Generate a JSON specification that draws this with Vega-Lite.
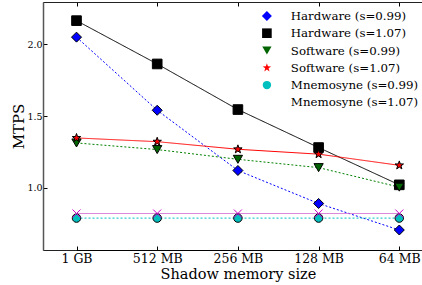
{
  "$schema": "https://vega.github.io/schema/vega-lite/v6.json",
  "width": 380,
  "height": 248,
  "autosize": {"type": "none"},
  "padding": {"left": 43, "top": 2, "right": -1, "bottom": 35},
  "config": {
    "view": {"stroke": "#222", "strokeWidth": 1},
    "font": "DejaVu Serif",
    "axis": {"domainColor": "black", "tickColor": "black", "labelColor": "black", "titleColor": "black", "grid": false, "labelFont": "DejaVu Serif", "titleFont": "DejaVu Serif", "titleFontWeight": "normal"},
    "legend": {"orient": "none", "legendX": 218, "legendY": 8, "padding": 0, "symbolSize": 100, "labelFont": "DejaVu Serif", "labelFontSize": 11.8, "labelColor": "black", "labelOffset": 18, "rowPadding": 3.3, "labelLimit": 300, "title": null, "symbolStrokeColor": "black", "symbolStrokeWidth": 1}
  },
  "data": {"values": [
    {"mem": "1 GB", "series": "Hardware (s=0.99)", "mtps": 2.05},
    {"mem": "512 MB", "series": "Hardware (s=0.99)", "mtps": 1.54},
    {"mem": "256 MB", "series": "Hardware (s=0.99)", "mtps": 1.12},
    {"mem": "128 MB", "series": "Hardware (s=0.99)", "mtps": 0.89},
    {"mem": "64 MB", "series": "Hardware (s=0.99)", "mtps": 0.705},
    {"mem": "1 GB", "series": "Hardware (s=1.07)", "mtps": 2.165},
    {"mem": "512 MB", "series": "Hardware (s=1.07)", "mtps": 1.863},
    {"mem": "256 MB", "series": "Hardware (s=1.07)", "mtps": 1.545},
    {"mem": "128 MB", "series": "Hardware (s=1.07)", "mtps": 1.28},
    {"mem": "64 MB", "series": "Hardware (s=1.07)", "mtps": 1.02},
    {"mem": "1 GB", "series": "Software (s=0.99)", "mtps": 1.312},
    {"mem": "512 MB", "series": "Software (s=0.99)", "mtps": 1.266},
    {"mem": "256 MB", "series": "Software (s=0.99)", "mtps": 1.198},
    {"mem": "128 MB", "series": "Software (s=0.99)", "mtps": 1.14},
    {"mem": "64 MB", "series": "Software (s=0.99)", "mtps": 1.004},
    {"mem": "1 GB", "series": "Software (s=1.07)", "mtps": 1.347},
    {"mem": "512 MB", "series": "Software (s=1.07)", "mtps": 1.321},
    {"mem": "256 MB", "series": "Software (s=1.07)", "mtps": 1.268},
    {"mem": "128 MB", "series": "Software (s=1.07)", "mtps": 1.234},
    {"mem": "64 MB", "series": "Software (s=1.07)", "mtps": 1.156},
    {"mem": "1 GB", "series": "Mnemosyne (s=0.99)", "mtps": 0.788},
    {"mem": "512 MB", "series": "Mnemosyne (s=0.99)", "mtps": 0.788},
    {"mem": "256 MB", "series": "Mnemosyne (s=0.99)", "mtps": 0.788},
    {"mem": "128 MB", "series": "Mnemosyne (s=0.99)", "mtps": 0.788},
    {"mem": "64 MB", "series": "Mnemosyne (s=0.99)", "mtps": 0.788},
    {"mem": "1 GB", "series": "Mnemosyne (s=1.07)", "mtps": 0.82},
    {"mem": "512 MB", "series": "Mnemosyne (s=1.07)", "mtps": 0.82},
    {"mem": "256 MB", "series": "Mnemosyne (s=1.07)", "mtps": 0.82},
    {"mem": "128 MB", "series": "Mnemosyne (s=1.07)", "mtps": 0.82},
    {"mem": "64 MB", "series": "Mnemosyne (s=1.07)", "mtps": 0.82}
  ]},
  "layer": [
    {
      "mark": {"type": "line", "strokeWidth": 1},
      "encoding": {
        "x": {"field": "mem", "type": "ordinal", "sort": null,
          "scale": {"type": "point", "domain": ["1 GB", "512 MB", "256 MB", "128 MB", "64 MB"], "range": [33.5, 356.3], "padding": 0},
          "axis": {"orient": "bottom", "title": "Shadow memory size", "titleFontSize": 14.5, "titlePadding": 3, "labelFontSize": 12.5, "labelAngle": 0, "tickSize": -4, "labelPadding": 6, "domainWidth": 1}},
        "y": {"field": "mtps", "type": "quantitative",
          "scale": {"domain": [0.5656, 2.295], "nice": false, "zero": false},
          "axis": {"orient": "left", "title": "MTPS", "titleFontSize": 15, "titlePadding": 0, "labelFontSize": 9.5, "values": [1, 1.5, 2], "format": ".1f", "tickSize": -4, "labelPadding": 5, "domainColor": "#555", "domainWidth": 1.5}},
        "detail": {"field": "series"},
        "stroke": {"field": "series", "type": "nominal", "legend": null,
          "scale": {"domain": ["Hardware (s=0.99)", "Hardware (s=1.07)", "Software (s=0.99)", "Software (s=1.07)", "Mnemosyne (s=0.99)", "Mnemosyne (s=1.07)"],
            "range": ["#0000ff", "#000000", "#008000", "#ff0000", "#00bfbf", "#d060d0"]}},
        "strokeDash": {"condition": {"test": "indexof(datum.series, '0.99') >= 0", "value": [2, 2]}, "value": [1, 0]},
        "strokeWidth": {"condition": {"test": "datum.series === 'Mnemosyne (s=1.07)'", "value": 2.5}, "value": 1}
      }
    },
    {
      "mark": {"type": "point", "filled": true, "opacity": 1, "strokeWidth": 1},
      "encoding": {
        "x": {"field": "mem", "type": "ordinal", "sort": null,
          "axis": {"orient": "top", "title": null, "labels": false, "tickSize": -4, "domainColor": "#222", "domainWidth": 1}},
        "y": {"field": "mtps", "type": "quantitative"},
        "shape": {"field": "series", "type": "nominal",
          "scale": {"domain": ["Hardware (s=0.99)", "Hardware (s=1.07)", "Software (s=0.99)", "Software (s=1.07)", "Mnemosyne (s=0.99)", "Mnemosyne (s=1.07)"],
            "range": ["diamond", "square", "triangle-down", "M0,-1L0.235,-0.324L0.951,-0.309L0.38,0.124L0.588,0.809L0,0.4L-0.588,0.809L-0.38,0.124L-0.951,-0.309L-0.235,-0.324Z", "circle", "M-1,-1L1,1M-1,1L1,-1"]}},
        "fill": {"field": "series", "type": "nominal",
          "scale": {"domain": ["Hardware (s=0.99)", "Hardware (s=1.07)", "Software (s=0.99)", "Software (s=1.07)", "Mnemosyne (s=0.99)", "Mnemosyne (s=1.07)"],
            "range": ["#0000ff", "#000000", "#006400", "#ff0000", "#00bfbf", "#cc00cc"]}},
        "stroke": {"field": "series", "type": "nominal", "legend": null,
          "scale": {"domain": ["Hardware (s=0.99)", "Hardware (s=1.07)", "Software (s=0.99)", "Software (s=1.07)", "Mnemosyne (s=0.99)", "Mnemosyne (s=1.07)"],
            "range": ["#000000", "#000000", "#000000", "#000000", "#000000", "#cc00cc"]}},
        "size": {"field": "series", "type": "nominal",
          "scale": {"domain": ["Hardware (s=0.99)", "Hardware (s=1.07)", "Software (s=0.99)", "Software (s=1.07)", "Mnemosyne (s=0.99)", "Mnemosyne (s=1.07)"],
            "range": [100, 64, 60, 70, 50, 36]}}
      }
    }
  ],
  "resolve": {"scale": {"stroke": "independent"}, "axis": {"x": "independent"}}
}
